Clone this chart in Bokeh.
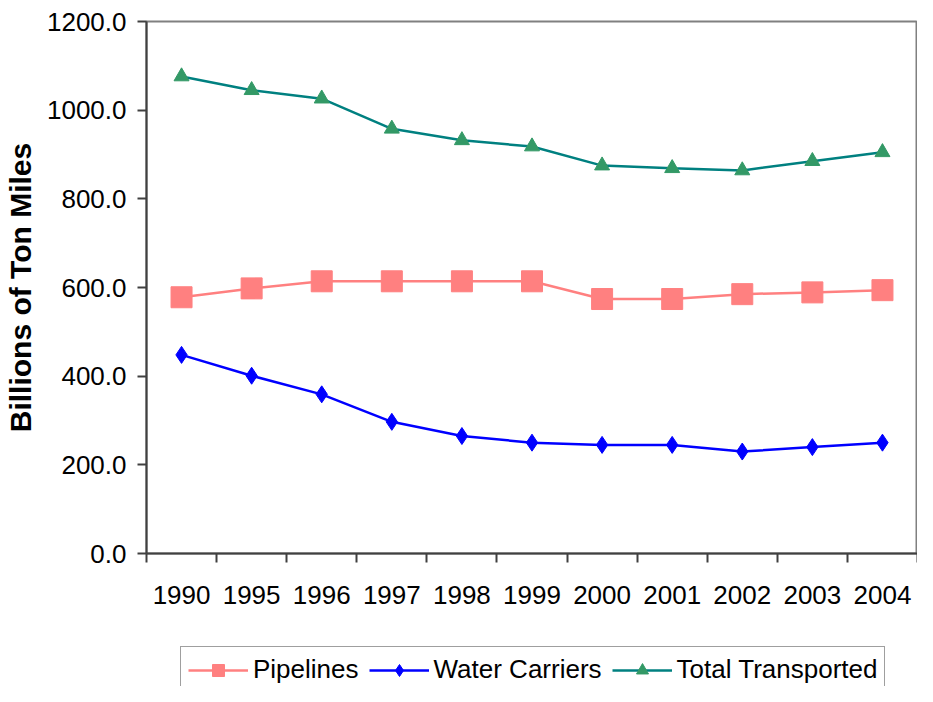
import numpy as np
from bokeh.plotting import figure
from bokeh.layouts import column
from bokeh.models import FixedTicker, NumeralTickFormatter, Range1d, Legend, LegendItem
from bokeh.embed import file_html
from bokeh.resources import INLINE

years = ["1990", "1995", "1996", "1997", "1998", "1999", "2000", "2001", "2002", "2003", "2004"]
pipelines = [578, 598, 614, 614, 614, 614, 574, 574, 585, 589, 594]
water_carriers = [448, 401, 359, 297, 265, 250, 245, 245, 230, 240, 250]
total_transported = [1076, 1045, 1026, 958, 932, 918, 875, 869, 864, 885, 905]
y_ticks = [0, 200, 400, 600, 800, 1000, 1200]
series_names = ["Pipelines", "Water Carriers", "Total Transported"]

n = len(years)
x = [i + 0.5 for i in range(n)]

FONT = "Liberation Sans"

p = figure(width=917, height=623, output_backend="svg", toolbar_location=None,
           title=None,
           x_range=Range1d(0, n), y_range=Range1d(y_ticks[0], y_ticks[-1]),
           min_border_left=143, min_border_right=0, min_border_top=21, min_border_bottom=70)

p.xgrid.visible = False
p.ygrid.visible = False
p.background_fill_color = "white"
p.border_fill_color = "white"
p.outline_line_color = "#808080"
p.outline_line_width = 2

# Y axis
p.yaxis.ticker = FixedTicker(ticks=y_ticks)
p.yaxis.formatter = NumeralTickFormatter(format="0.0")
p.yaxis.major_tick_out = 9
p.yaxis.major_tick_in = 0
p.yaxis.minor_tick_out = 0
p.yaxis.minor_tick_in = 0
p.yaxis.major_label_standoff = 11
p.yaxis.major_label_text_font = FONT
p.yaxis.major_label_text_font_size = "26px"
p.yaxis.major_label_text_color = "black"
p.yaxis.axis_line_color = "#404040"
p.yaxis.axis_line_width = 2
p.yaxis.major_tick_line_color = "#404040"
p.yaxis.major_tick_line_width = 2
p.yaxis.axis_label = "Billions of Ton Miles"
p.yaxis.axis_label_text_font = FONT
p.yaxis.axis_label_text_font_style = "bold"
p.yaxis.axis_label_text_font_size = "30px"
p.yaxis.axis_label_text_color = "black"
p.yaxis.axis_label_standoff = 7

# X axis: labels at category centres, tick marks at category boundaries
p.xaxis.ticker = FixedTicker(ticks=x, minor_ticks=list(range(n + 1)))
p.xaxis.major_label_overrides = {xi: yr for xi, yr in zip(x, years)}
p.xaxis.major_tick_out = 0
p.xaxis.major_tick_in = 0
p.xaxis.minor_tick_out = 9
p.xaxis.minor_tick_in = 0
p.xaxis.minor_tick_line_color = "#404040"
p.xaxis.minor_tick_line_width = 2
p.xaxis.major_label_standoff = 23
p.xaxis.major_label_text_font = FONT
p.xaxis.major_label_text_font_size = "26px"
p.xaxis.major_label_text_color = "black"
p.xaxis.axis_line_color = "#404040"
p.xaxis.axis_line_width = 2

styles = [
    dict(color="#FF8080", mcolor="#FF8080", marker="square", size=21),
    dict(color="#0000FF", mcolor="#0000FF", marker="diamond", size=17),
    dict(color="#008080", mcolor="#339966", marker="triangle", size=15),
]
data = [pipelines, water_carriers, total_transported]

for vals, st in zip(data, styles):
    p.line(x, vals, line_color=st["color"], line_width=2.5)
    p.scatter(x, vals, marker=st["marker"], size=st["size"],
              fill_color=st["mcolor"], line_color=st["mcolor"])

# Legend strip below the chart (its own canvas; the series are repeated
# there only as legend keys, outside that canvas's visible range)
lg = figure(width=917, height=63, output_backend="svg", toolbar_location=None,
            title=None, x_axis_type=None, y_axis_type=None,
            x_range=Range1d(0, n), y_range=Range1d(-2, -1),
            min_border_left=0, min_border_right=0, min_border_top=0, min_border_bottom=0)
lg.xgrid.visible = False
lg.ygrid.visible = False
lg.outline_line_color = None
lg.background_fill_color = "white"
lg.border_fill_color = "white"

items = []
for name, vals, st in zip(series_names, data, styles):
    rl = lg.line(x, vals, line_color=st["color"], line_width=2.5)
    rm = lg.scatter(x, vals, marker=st["marker"],
                    fill_color=st["mcolor"], line_color=st["mcolor"])
    items.append(LegendItem(label=name, renderers=[rl, rm]))

legend = Legend(items=items, orientation="horizontal", location=(34, -7), margin=0,
                padding=7, spacing=10, glyph_width=60, glyph_height=30, label_standoff=5,
                label_text_font=FONT, label_text_font_size="26px", label_text_color="black",
                border_line_color="#404040", border_line_width=1.5,
                background_fill_color="white")
lg.add_layout(legend, "center")

layout = column(p, lg, spacing=0)
open("out.html", "w").write(file_html(layout, INLINE))
